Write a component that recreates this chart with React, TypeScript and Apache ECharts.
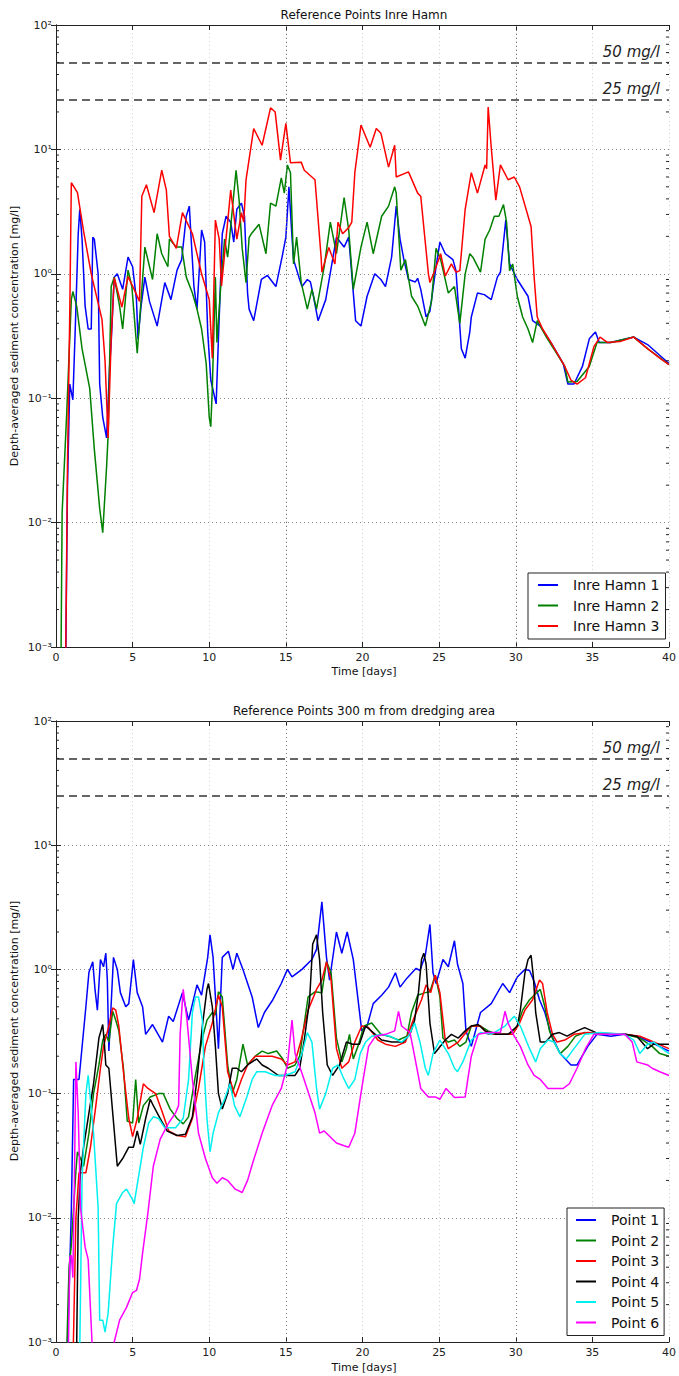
import React, { useEffect, useRef } from "react";
import * as echarts from "echarts";

const FONT = "DejaVu Sans";

const xTicks = [0, 40, 5]; // min, max, step
const yTickLabels = ["10⁻³", "10⁻²", "10⁻¹", "10⁰", "10¹", "10²"];
const thresholds = [
  { value: 50, label: "50 mg/l" },
  { value: 25, label: "25 mg/l" },
];
const markDays = [15, 30];

const topTitle = "Reference Points Inre Hamn";
const bottomTitle = "Reference Points 300 m from dredging area";
const xName = "Time [days]";
const yName = "Depth-averaged sediment concentration [mg/l]";

const topNames = ["Inre Hamn 1", "Inre Hamn 2", "Inre Hamn 3"];
const topColors = ["#0000ff", "#008000", "#ff0000"];
const bottomNames = ["Point 1", "Point 2", "Point 3", "Point 4", "Point 5", "Point 6"];
const bottomColors = ["#0000ff", "#008000", "#ff0000", "#000000", "#00f0f0", "#ff00ff"];

const inreHamn1 = [[0.6,0.0003],[0.75,0.02],[0.9,0.13],[1.1,0.097],[1.25,0.34],[1.45,2.1],[1.55,3.3],[1.7,1.9],[1.9,0.55],[2.1,0.36],[2.3,0.36],[2.4,1.97],[2.5,1.9],[2.75,1.0],[2.85,0.13],[3.05,0.07],[3.3,0.048],[3.5,0.18],[3.6,0.28],[3.8,0.94],[4.0,1.0],[4.35,0.75],[4.7,1.36],[5.0,1.14],[5.25,0.62],[5.35,0.3],[5.55,0.55],[5.8,0.94],[6.1,0.6],[6.6,0.38],[7.1,0.85],[7.5,0.62],[7.9,1.07],[8.2,1.3],[8.5,2.9],[8.7,3.5],[8.8,2.1],[9.0,0.79],[9.2,0.52],[9.5,2.25],[9.7,1.8],[9.9,0.34],[10.1,0.14],[10.45,0.09],[10.6,0.3],[10.85,2.1],[11.1,2.9],[11.4,2.6],[11.6,1.8],[11.8,3.3],[12.1,3.7],[12.3,2.9],[12.5,0.7],[12.6,0.52],[12.9,0.42],[13.4,0.9],[13.8,0.97],[14.35,0.79],[14.75,1.36],[15.0,1.97],[15.2,5.0],[15.4,1.97],[15.5,1.3],[15.85,0.94],[16.05,0.79],[16.4,0.9],[16.6,0.86],[16.8,0.66],[17.1,0.42],[17.6,0.62],[18.0,1.2],[18.3,1.97],[18.8,1.64],[19.1,1.97],[19.55,0.42],[19.9,0.38],[20.3,0.66],[20.8,1.0],[21.2,0.9],[21.5,0.79],[21.9,1.36],[22.2,3.5],[22.45,1.9],[22.7,1.3],[23.0,0.9],[23.45,0.86],[23.6,0.92],[23.8,0.75],[24.15,0.45],[24.4,0.5],[24.8,1.14],[25.05,1.8],[25.4,1.45],[25.9,1.3],[26.1,1.06],[26.45,0.25],[26.7,0.21],[27.0,0.34],[27.1,0.45],[27.5,0.7],[27.95,0.68],[28.4,0.62],[28.8,0.94],[29.0,1.03],[29.35,2.7],[29.6,1.2],[30.1,0.9],[30.8,0.66],[31.1,0.42],[31.6,0.38],[32.3,0.28],[33.1,0.19],[33.4,0.13],[33.8,0.13],[34.35,0.18],[34.8,0.3],[35.2,0.34],[35.45,0.28],[36.2,0.28],[37.7,0.31],[38.6,0.27],[40,0.19]];

const inreHamn2 = [[0.3,0.0003],[0.4,0.012],[0.7,0.076],[1.0,0.62],[1.1,0.72],[1.35,0.55],[1.7,0.25],[2.2,0.12],[2.5,0.039],[2.85,0.013],[3.05,0.0083],[3.3,0.028],[3.4,0.05],[3.6,0.79],[3.8,0.94],[4.15,0.55],[4.35,0.36],[4.7,1.07],[4.95,0.79],[5.3,0.23],[5.8,1.64],[6.3,0.9],[6.6,2.1],[6.9,1.45],[7.3,1.14],[7.4,1.9],[7.85,1.64],[8.2,1.64],[8.5,0.94],[8.9,0.7],[9.2,0.52],[9.5,0.36],[9.8,0.19],[10.0,0.07],[10.1,0.059],[10.2,0.12],[10.4,0.94],[10.5,0.28],[10.75,0.79],[11.0,1.9],[11.2,1.36],[11.4,2.4],[11.75,6.8],[11.95,3.9],[12.15,1.6],[12.4,0.85],[12.6,1.95],[12.75,2.1],[13.25,2.5],[13.7,1.45],[14.0,3.7],[14.35,3.5],[14.7,5.9],[14.9,4.45],[15.1,7.5],[15.3,6.5],[15.5,1.2],[15.7,1.97],[16.0,0.85],[16.4,0.52],[16.7,0.75],[17.0,0.52],[17.5,1.14],[17.9,2.6],[18.3,1.45],[18.8,4.1],[19.1,2.25],[19.4,0.75],[19.9,1.64],[20.3,2.6],[20.7,1.45],[21.25,2.9],[21.7,3.5],[22.1,5.0],[22.2,4.45],[22.5,1.07],[22.8,1.3],[23.2,0.66],[23.6,0.55],[24.1,0.38],[24.5,0.6],[24.8,1.6],[25.1,1.3],[25.6,0.7],[26.0,0.79],[26.35,0.4],[26.7,1.0],[27.0,1.45],[27.2,1.36],[27.7,1.03],[28.0,1.9],[28.3,2.25],[28.6,2.9],[28.9,2.9],[29.2,3.6],[29.4,2.6],[29.6,1.06],[29.8,1.2],[30.1,0.66],[30.45,0.45],[30.8,0.36],[31.1,0.28],[31.4,0.42],[32.0,0.31],[33.2,0.18],[33.4,0.135],[34.0,0.136],[34.8,0.18],[35.3,0.28],[36.2,0.28],[37.7,0.31],[38.6,0.25],[40,0.186]];

const inreHamn3 = [[0.6,0.0003],[0.75,0.03],[0.9,0.5],[1.0,5.4],[1.4,4.5],[1.8,2.2],[2.3,1.0],[3.0,0.43],[3.2,0.2],[3.4,0.048],[3.6,0.3],[3.8,0.93],[4.3,0.54],[4.7,0.95],[5.1,0.75],[5.45,0.6],[5.6,4.2],[5.9,5.2],[6.4,3.1],[6.9,6.8],[7.2,4.7],[7.4,2.0],[7.85,1.6],[8.25,3.1],[8.9,2.1],[9.5,1.0],[10.0,0.62],[10.2,0.21],[10.4,2.7],[10.65,1.9],[10.8,0.8],[11.4,4.7],[11.8,1.9],[12.1,3.1],[12.25,2.6],[12.4,5.7],[12.9,14.7],[13.45,10.8],[14.0,21.6],[14.3,20],[14.65,8.2],[15.0,16.2],[15.3,7.8],[16.0,7.9],[16.2,6.8],[16.9,5.7],[17.3,1.36],[17.35,1.03],[17.8,1.63],[18.2,1.2],[18.4,2.6],[18.7,2.1],[19.1,2.35],[19.3,2.6],[19.5,6.5],[19.9,15.7],[20.5,10.4],[20.9,14.7],[21.2,13.5],[21.7,7.2],[22.1,10.8],[22.2,6.0],[23.0,6.6],[23.6,4.45],[23.8,4.2],[24.3,1.0],[24.4,0.85],[24.7,1.05],[25.1,1.45],[25.4,0.96],[25.8,1.2],[26.1,1.03],[26.35,1.06],[26.7,3.3],[27.1,6.5],[27.5,4.45],[28.0,7.5],[28.1,7.0],[28.2,21.9],[28.4,10.4],[28.7,3.9],[29.0,7.5],[29.5,5.7],[29.9,6.0],[30.25,5.0],[31.0,2.4],[31.2,0.94],[31.4,0.45],[31.75,0.36],[32.3,0.28],[33.2,0.18],[33.6,0.14],[34.0,0.13],[34.55,0.146],[35.1,0.26],[35.5,0.31],[36.0,0.28],[36.8,0.285],[37.7,0.31],[38.6,0.25],[39.4,0.21],[40,0.186]];

const point1 = [[0.65,0.0003],[1.0,0.0115],[1.15,0.13],[1.5,0.13],[1.95,0.5],[2.15,0.95],[2.4,1.15],[2.55,0.68],[2.7,0.47],[2.9,1.2],[3.1,1.05],[3.25,1.35],[3.35,0.82],[3.45,0.22],[3.75,1.25],[4.0,1.0],[4.2,0.65],[4.55,0.5],[4.75,0.53],[5.05,1.2],[5.3,0.65],[5.65,0.5],[5.85,0.3],[6.3,0.36],[6.95,0.26],[7.35,0.42],[7.65,0.38],[8.25,0.65],[8.65,0.39],[9.2,0.75],[9.5,0.62],[9.9,1.25],[10.05,1.9],[10.25,1.25],[10.6,0.23],[10.85,1.25],[11.25,1.4],[11.55,1.0],[11.8,1.35],[12.2,1.0],[12.8,0.6],[13.2,0.34],[13.6,0.45],[14.15,0.57],[14.7,0.77],[15.1,1.0],[15.4,0.87],[16.05,1.0],[16.7,1.2],[17.0,1.45],[17.35,3.5],[17.65,1.25],[17.85,0.82],[18.3,2.0],[18.65,1.35],[19.0,2.0],[19.4,1.2],[19.95,0.32],[20.3,0.35],[20.7,0.53],[21.25,0.62],[21.7,0.72],[22.15,0.94],[22.45,0.72],[22.9,0.85],[23.5,1.02],[23.75,0.98],[24.1,1.3],[24.4,2.3],[24.6,0.94],[24.8,0.77],[25.25,1.2],[25.6,1.05],[26.0,1.7],[26.2,1.1],[26.55,0.77],[26.75,0.32],[27.1,0.24],[27.7,0.45],[28.4,0.53],[29.15,0.77],[29.6,0.65],[30.1,0.87],[30.6,1.0],[30.9,0.98],[31.2,0.8],[31.55,0.57],[31.9,0.45],[32.3,0.3],[32.9,0.21],[33.6,0.17],[34.0,0.17],[34.7,0.24],[35.3,0.3],[36.2,0.29],[37.1,0.3],[37.9,0.29],[38.8,0.26],[40,0.22]];

const point2 = [[0.6,0.0003],[0.85,0.004],[1.0,0.006],[1.3,0.024],[1.4,0.034],[1.6,0.03],[1.8,0.026],[2.15,0.048],[2.45,0.1],[2.8,0.17],[3.05,0.27],[3.25,0.3],[3.45,0.26],[3.7,0.46],[3.9,0.39],[4.1,0.32],[4.4,0.16],[4.65,0.06],[5.0,0.058],[5.2,0.13],[5.4,0.058],[5.7,0.08],[6.15,0.094],[6.7,0.1],[7.0,0.1],[7.45,0.075],[7.9,0.063],[8.3,0.057],[8.65,0.065],[9.1,0.14],[9.55,0.28],[9.85,0.39],[10.2,0.45],[10.4,0.43],[10.6,0.66],[10.85,0.6],[11.2,0.17],[11.5,0.1],[11.8,0.13],[12.2,0.25],[12.5,0.17],[13.0,0.2],[13.45,0.22],[13.85,0.21],[14.4,0.22],[14.8,0.19],[15.1,0.16],[15.6,0.17],[15.9,0.2],[16.1,0.3],[16.45,0.6],[16.9,0.66],[17.35,0.65],[17.65,1.15],[17.95,0.94],[18.3,0.28],[18.65,0.18],[18.95,0.23],[19.15,0.3],[19.4,0.19],[19.7,0.24],[20.1,0.35],[20.6,0.37],[21.2,0.3],[21.7,0.29],[22.35,0.27],[22.9,0.29],[23.2,0.45],[23.6,0.62],[24.1,0.65],[24.4,0.66],[24.75,0.9],[25.05,0.6],[25.25,0.28],[25.6,0.26],[26.0,0.27],[26.35,0.24],[26.75,0.26],[27.1,0.35],[27.7,0.35],[28.2,0.32],[28.85,0.3],[29.6,0.3],[30.1,0.35],[30.45,0.47],[30.9,0.57],[31.2,0.62],[31.6,0.69],[31.9,0.5],[32.2,0.32],[32.5,0.26],[32.9,0.21],[33.4,0.24],[33.9,0.29],[34.5,0.31],[35.5,0.3],[37.1,0.3],[38.1,0.28],[38.9,0.24],[39.4,0.21],[40,0.2]];

const point3 = [[1.05,0.0003],[1.3,0.01],[1.5,0.023],[1.95,0.023],[2.25,0.037],[2.6,0.08],[2.9,0.16],[3.1,0.24],[3.45,0.35],[3.7,0.49],[3.9,0.47],[4.1,0.35],[4.4,0.15],[4.75,0.063],[5.0,0.045],[5.3,0.063],[5.7,0.12],[6.0,0.11],[6.5,0.1],[6.95,0.07],[7.35,0.05],[7.9,0.046],[8.45,0.045],[8.9,0.063],[9.3,0.11],[9.75,0.24],[10.2,0.37],[10.6,0.62],[10.85,0.5],[11.2,0.15],[11.7,0.094],[12.1,0.13],[12.5,0.17],[13.0,0.2],[13.45,0.2],[14.1,0.2],[14.7,0.19],[15.1,0.17],[15.6,0.18],[16.0,0.27],[16.45,0.47],[17.0,0.69],[17.35,0.82],[17.65,1.15],[17.95,0.82],[18.3,0.23],[18.65,0.16],[19.1,0.18],[19.5,0.26],[19.95,0.35],[20.4,0.34],[21.0,0.27],[21.5,0.25],[22.15,0.24],[22.8,0.26],[23.3,0.39],[23.85,0.57],[24.15,0.75],[24.45,0.65],[24.75,0.9],[25.05,0.65],[25.4,0.27],[25.6,0.23],[26.25,0.26],[26.55,0.29],[27.1,0.35],[27.7,0.35],[28.2,0.3],[29.0,0.3],[29.8,0.3],[30.25,0.37],[30.6,0.47],[31.1,0.57],[31.55,0.82],[31.75,0.77],[32.05,0.45],[32.4,0.3],[32.7,0.26],[33.2,0.27],[33.8,0.3],[34.7,0.31],[37.1,0.3],[38.1,0.29],[39.0,0.26],[40,0.23]];

const point4 = [[1.3,0.0003],[1.45,0.01],[1.6,0.024],[1.8,0.037],[2.15,0.07],[2.45,0.12],[2.8,0.28],[3.05,0.36],[3.15,0.26],[3.25,0.17],[3.45,0.16],[3.7,0.07],[4.0,0.026],[4.35,0.03],[4.75,0.037],[5.05,0.037],[5.3,0.05],[5.5,0.039],[5.85,0.063],[6.15,0.09],[6.35,0.08],[6.8,0.063],[7.25,0.05],[7.9,0.046],[8.45,0.047],[8.9,0.065],[9.2,0.13],[9.55,0.35],[9.85,0.69],[9.95,0.77],[10.2,0.5],[10.4,0.24],[10.6,0.1],[10.85,0.075],[11.2,0.1],[11.5,0.16],[11.8,0.16],[12.1,0.15],[12.5,0.17],[13.1,0.19],[13.45,0.17],[13.85,0.16],[14.5,0.14],[15.1,0.14],[15.6,0.14],[15.9,0.16],[16.2,0.27],[16.55,0.57],[16.75,1.6],[17.0,1.9],[17.2,1.2],[17.4,0.45],[17.7,0.17],[18.05,0.14],[18.5,0.17],[18.95,0.26],[19.35,0.25],[19.8,0.25],[20.2,0.35],[20.7,0.31],[21.25,0.27],[21.9,0.26],[22.65,0.26],[23.1,0.3],[23.4,0.39],[23.65,0.65],[23.85,1.2],[24.0,1.35],[24.15,1.1],[24.4,0.37],[24.7,0.21],[24.95,0.23],[25.4,0.27],[25.8,0.3],[26.25,0.28],[26.7,0.32],[27.1,0.35],[27.55,0.36],[28.0,0.32],[28.7,0.3],[29.5,0.3],[30.1,0.35],[30.3,0.47],[30.6,0.94],[30.8,1.2],[31.0,1.3],[31.15,0.87],[31.3,0.45],[31.6,0.26],[31.95,0.26],[32.4,0.3],[32.85,0.31],[33.35,0.29],[34.0,0.32],[34.5,0.34],[35.5,0.3],[37.1,0.3],[37.9,0.29],[38.6,0.23],[39.0,0.25],[40,0.25]];

const point5 = [[1.5,0.0003],[1.7,0.02],[1.95,0.1],[2.1,0.14],[2.45,0.048],[2.75,0.012],[2.85,0.0015],[3.05,0.0015],[3.2,0.0012],[3.4,0.0017],[3.7,0.0058],[3.95,0.013],[4.35,0.016],[4.6,0.017],[5.0,0.014],[5.1,0.013],[5.4,0.022],[5.7,0.037],[6.05,0.058],[6.35,0.065],[6.7,0.063],[7.1,0.053],[7.8,0.053],[8.3,0.063],[8.65,0.13],[8.9,0.45],[9.1,0.6],[9.3,0.6],[9.55,0.39],[9.65,0.17],[9.85,0.063],[10.05,0.034],[10.25,0.048],[10.6,0.07],[11.0,0.09],[11.35,0.12],[11.65,0.08],[12.0,0.065],[12.45,0.094],[12.8,0.13],[13.1,0.15],[13.65,0.15],[14.3,0.14],[14.95,0.14],[15.6,0.15],[16.05,0.21],[16.4,0.31],[16.7,0.26],[17.0,0.11],[17.2,0.075],[17.6,0.1],[18.05,0.16],[18.4,0.17],[18.8,0.13],[19.1,0.11],[19.5,0.13],[19.85,0.21],[20.2,0.26],[20.6,0.29],[21.25,0.3],[21.8,0.29],[22.55,0.26],[23.0,0.29],[23.4,0.37],[23.75,0.26],[24.1,0.16],[24.3,0.14],[24.6,0.21],[25.05,0.27],[25.6,0.21],[26.0,0.16],[26.2,0.15],[26.55,0.18],[27.1,0.27],[27.7,0.31],[28.4,0.3],[29.3,0.35],[29.9,0.42],[30.3,0.35],[30.9,0.23],[31.3,0.18],[31.6,0.23],[32.1,0.27],[32.5,0.26],[32.9,0.21],[33.3,0.19],[33.8,0.23],[34.5,0.3],[35.5,0.31],[37.1,0.3],[37.7,0.27],[38.1,0.21],[38.6,0.25],[39.0,0.26],[39.55,0.23],[40,0.21]];

const point6 = [[0.75,0.0003],[0.9,0.0048],[1.0,0.005],[1.1,0.0033],[1.2,0.02],[1.3,0.18],[1.45,0.07],[1.6,0.012],[1.9,0.0058],[2.1,0.0046],[2.35,0.001],[2.6,0.0003],[3.6,0.0003],[3.8,0.001],[4.15,0.0015],[4.6,0.0019],[5.0,0.0025],[5.25,0.0026],[5.45,0.0032],[5.65,0.0052],[6.0,0.011],[6.35,0.026],[6.8,0.043],[7.35,0.058],[7.8,0.07],[8.0,0.08],[8.1,0.3],[8.3,0.69],[8.55,0.39],[8.9,0.13],[9.3,0.048],[9.75,0.03],[10.2,0.021],[10.5,0.019],[10.85,0.021],[11.2,0.02],[11.7,0.017],[12.15,0.016],[12.5,0.02],[12.85,0.028],[13.45,0.048],[14.1,0.08],[14.7,0.11],[15.1,0.17],[15.4,0.39],[15.6,0.21],[16.1,0.14],[16.9,0.07],[17.2,0.048],[17.5,0.05],[17.8,0.046],[18.3,0.04],[18.8,0.038],[19.1,0.037],[19.5,0.048],[19.95,0.11],[20.4,0.24],[20.85,0.29],[21.5,0.3],[22.1,0.32],[22.35,0.46],[22.55,0.35],[23.1,0.31],[23.4,0.2],[23.8,0.11],[24.3,0.094],[24.75,0.094],[25.05,0.09],[25.45,0.11],[26.0,0.093],[26.7,0.094],[27.1,0.2],[27.55,0.3],[28.2,0.31],[29.0,0.31],[29.3,0.46],[29.5,0.37],[29.9,0.29],[30.3,0.24],[30.8,0.17],[31.2,0.14],[31.6,0.13],[32.1,0.11],[32.6,0.11],[33.1,0.11],[33.5,0.12],[34.0,0.16],[34.55,0.23],[35.1,0.3],[36.0,0.3],[37.1,0.3],[37.6,0.26],[37.9,0.18],[38.6,0.17],[38.9,0.16],[39.4,0.15],[40,0.14]];

const topData = [inreHamn1, inreHamn2, inreHamn3];
const bottomData = [point1, point2, point3, point4, point5, point6];

const GRIDS = [
  { left: 56, top: 25, width: 616, height: 622 },
  { left: 56, top: 721, width: 616, height: 621 },
];

function minorTickValues() {
  const out: number[][] = [];
  for (let e = -3; e < 2; e++) {
    for (let m = 2; m <= 9; m++) out.push([0, m * Math.pow(10, e)]);
  }
  return out;
}

function buildOption() {
  const xAxes: any[] = [];
  const yAxes: any[] = [];
  GRIDS.forEach((_, gi) => {
    xAxes.push({
      gridIndex: gi, type: "value", min: xTicks[0], max: xTicks[1], interval: xTicks[2],
      axisLine: { show: true, lineStyle: { color: "#222", width: 1 } },
      axisTick: { show: true, inside: true, length: 5, lineStyle: { color: "#222" } },
      axisLabel: { fontSize: 11, color: "#222", margin: 5, fontFamily: FONT },
      splitLine: { show: true, lineStyle: { type: [1, 3], color: "#d2d2d2", width: 1 } },
    });
    xAxes.push({
      gridIndex: gi, type: "value", position: "top", min: xTicks[0], max: xTicks[1], interval: xTicks[2],
      axisLine: { show: true, lineStyle: { color: "#222", width: 1 } },
      axisTick: { show: true, inside: true, length: 5, lineStyle: { color: "#222" } },
      axisLabel: { show: false }, splitLine: { show: false },
    });
    yAxes.push({
      gridIndex: gi, type: "log", logBase: 10, min: 0.001, max: 100,
      axisLine: { show: true, lineStyle: { color: "#222", width: 1 } },
      axisTick: { show: true, inside: true, length: 5, lineStyle: { color: "#222" } },
      axisLabel: {
        fontSize: 11, color: "#222", margin: 4, fontFamily: FONT,
        formatter: (v: number) => yTickLabels[Math.round(Math.log10(v)) + 3] ?? "",
      },
      splitLine: { show: true, lineStyle: { type: [1, 3], color: "#8a8a8a", width: 1 } },
    });
    yAxes.push({
      gridIndex: gi, type: "log", logBase: 10, min: 0.001, max: 100, position: "right",
      axisLine: { show: true, lineStyle: { color: "#222", width: 1 } },
      axisTick: { show: true, inside: true, length: 5, lineStyle: { color: "#222" } },
      axisLabel: { show: false }, splitLine: { show: false },
    });
  });

  const markLine = {
    silent: true,
    symbol: ["none", "none"],
    animation: false,
    data: [
      ...thresholds.map((t) => ({
        yAxis: t.value,
        lineStyle: { type: [8, 5], color: "#333", width: 1.5 },
        label: {
          show: true, formatter: t.label, position: "insideEndTop", distance: [9, 3],
          fontSize: 15, fontStyle: "italic", color: "#222", fontFamily: FONT,
        },
      })),
      ...markDays.map((d) => ({
        xAxis: d,
        lineStyle: { type: [1, 3], color: "#777", width: 1 },
        label: { show: false },
      })),
    ],
  };

  const series: any[] = [];
  const addGroup = (gi: number, names: string[], colors: string[], data: number[][][]) => {
    names.forEach((n, i) => {
      series.push({
        type: "line", name: n, xAxisIndex: gi * 2, yAxisIndex: gi * 2,
        data: data[i], showSymbol: false, symbol: "none", clip: true,
        lineStyle: { width: 1.5, color: colors[i] }, itemStyle: { color: colors[i] },
        z: 3 + i,
        markLine: i === 0 ? markLine : undefined,
      });
    });
    series.push({
      type: "custom", name: "minor" + gi, xAxisIndex: gi * 2, yAxisIndex: gi * 2,
      data: minorTickValues(), silent: true, clip: false, z: 20,
      encode: { x: 0, y: 1 },
      renderItem: (params: any, api: any) => {
        const v = api.value(1);
        const l = api.coord([xTicks[0], v]);
        const r = api.coord([xTicks[1], v]);
        return {
          type: "group",
          children: [
            { type: "line", shape: { x1: l[0], y1: l[1], x2: l[0] + 3, y2: l[1] }, style: { stroke: "#222", lineWidth: 1 } },
            { type: "line", shape: { x1: r[0] - 3, y1: r[1], x2: r[0], y2: r[1] }, style: { stroke: "#222", lineWidth: 1 } },
          ],
        };
      },
    });
  };
  addGroup(0, topNames, topColors, topData);
  addGroup(1, bottomNames, bottomColors, bottomData);

  const legendCommon = {
    orient: "vertical",
    icon: "rect",
    itemWidth: 20,
    itemHeight: 2,
    itemGap: 6.5,
    backgroundColor: "#fff",
    borderColor: "#222",
    borderWidth: 1,
    borderRadius: 0,
    textStyle: { fontSize: 14, color: "#111", fontFamily: FONT, lineHeight: 14, padding: [0, 0, 0, 10] },
    selectedMode: false,
  };

  const gText = (x: number, y: number, text: string, size: number, rot = 0) => ({
    type: "text", x, y, rotation: rot, silent: true,
    style: { text, fontSize: size, fontFamily: FONT, fill: "#111", textAlign: "center", textVerticalAlign: "middle" },
  });

  return {
    animation: false,
    textStyle: { fontFamily: FONT },
    grid: GRIDS.map((g) => ({ ...g, containLabel: false })),
    xAxis: xAxes,
    yAxis: yAxes,
    legend: [
      { ...legendCommon, data: topNames, left: 528, top: 573, padding: [5, 6, 6, 10] },
      { ...legendCommon, data: bottomNames, left: 567, top: 1208, padding: [5, 5, 6, 9] },
    ],
    graphic: [
      gText(364, 15, topTitle, 12),
      gText(364, 711, bottomTitle, 12),
      gText(364, 671, xName, 11),
      gText(364, 1367, xName, 11),
      gText(14, 336, yName, 11, Math.PI / 2),
      gText(14, 1031, yName, 11, Math.PI / 2),
    ],
    series,
  };
}

export default function App() {
  const ref = useRef<HTMLDivElement>(null);
  useEffect(() => {
    document.body.style.margin = "0";
    const chart = echarts.init(ref.current as HTMLDivElement, null, { renderer: "svg" });
    chart.setOption(buildOption() as any);
    return () => chart.dispose();
  }, []);
  return <div ref={ref} style={{ width: 679, height: 1376, background: "#fff" }} />;
}
